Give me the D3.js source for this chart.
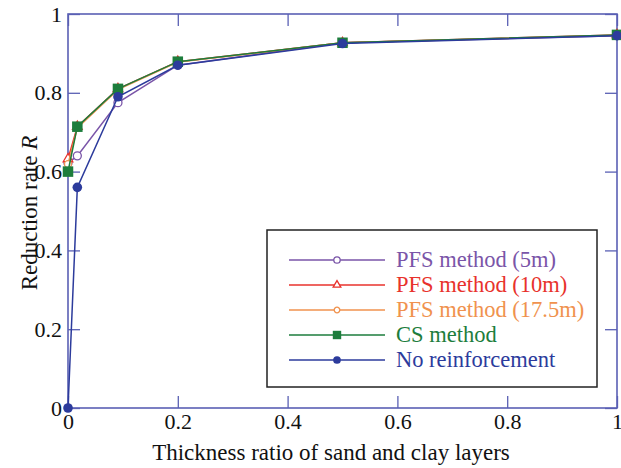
<!DOCTYPE html>
<html>
<head>
<meta charset="utf-8">
<script src="https://cdn.jsdelivr.net/npm/d3@7"></script>
<style>
  html, body { margin: 0; padding: 0; background: #fff; }
  svg { display: block; }
</style>
</head>
<body>
<div id="chart"></div>
<script>
// Thickness ratio of sand to clay layers (x positions of the measured cases)
const ratios = [0, 0.017, 0.091, 0.2, 0.5, 1.0];

// Reduction rate R for each method
const pfs5   = [0.622, 0.640, 0.775, 0.870, 0.927, 0.945];
const pfs10  = [0.632, 0.714, 0.810, 0.879, 0.927, 0.947];
const pfs175 = [0.619, 0.711, 0.808, 0.878, 0.927, 0.946];
const cs     = [0.600, 0.714, 0.810, 0.879, 0.927, 0.947];
const noReinf = [0.000, 0.560, 0.790, 0.870, 0.925, 0.945];

const xTicks = [0, 0.2, 0.4, 0.6, 0.8, 1];
const yTicks = [0, 0.2, 0.4, 0.6, 0.8, 1];
const xTickLabels = ["0", "0.2", "0.4", "0.6", "0.8", "1"];
const yTickLabels = ["0", "0.2", "0.4", "0.6", "0.8", "1"];

const seriesNames = ["PFS method (5m)", "PFS method (10m)", "PFS method (17.5m)", "CS method", "No reinforcement"];
const seriesValues = [pfs5, pfs10, pfs175, cs, noReinf];
const seriesColors = ["#7a55a8", "#e8322c", "#f0924e", "#1d7d3c", "#2c3b9c"];
const seriesMarkers = ["openCircle", "openTriangle", "openCircleSmall", "square", "dot"];

const SERIF = "'Liberation Serif', 'Times New Roman', Times, serif";

const W = 621, H = 468;
const m = { left: 68, right: 4, top: 14, bottom: 60 };
const iw = W - m.left - m.right, ih = H - m.top - m.bottom;
const frameColor = "#5a60b4";

const svg = d3.select("#chart").append("svg").attr("width", W).attr("height", H)
  .style("font-family", SERIF);
const g = svg.append("g").attr("transform", `translate(${m.left},${m.top})`);

const x = d3.scaleLinear().domain([0, 1]).range([0, iw]);
const y = d3.scaleLinear().domain([0, 1]).range([ih, 0]);

// Inward ticks on all four sides
const tickLen = 12;
const xb = d3.axisBottom(x).tickValues(xTicks).tickSizeInner(-tickLen).tickSizeOuter(0).tickFormat((d, i) => xTickLabels[i]).tickPadding(5);
const yl = d3.axisLeft(y).tickValues(yTicks).tickSizeInner(-tickLen).tickSizeOuter(0).tickFormat((d, i) => yTickLabels[i]).tickPadding(6);
const xt = d3.axisTop(x).tickValues(xTicks).tickSizeInner(-tickLen).tickSizeOuter(0).tickFormat("");
const yr = d3.axisRight(y).tickValues(yTicks).tickSizeInner(-tickLen).tickSizeOuter(0).tickFormat("");

function styleAxis(sel) {
  sel.attr("font-family", SERIF).attr("font-size", 22);
  sel.select(".domain").remove();
  sel.selectAll(".tick line").attr("stroke", frameColor).attr("stroke-width", 1.3);
  sel.selectAll(".tick text").attr("fill", "#111").attr("font-family", SERIF).attr("font-size", 22);
}
g.append("g").attr("transform", `translate(0,${ih})`).call(xb).call(styleAxis);
g.append("g").call(yl).call(styleAxis);
g.append("g").call(xt).call(styleAxis);
g.append("g").attr("transform", `translate(${iw},0)`).call(yr).call(styleAxis);

g.append("rect").attr("width", iw).attr("height", ih)
  .attr("fill", "none").attr("stroke", frameColor).attr("stroke-width", 1.6);

// Axis titles
svg.append("text").attr("x", 331).attr("y", 460)
  .attr("text-anchor", "middle").attr("font-size", 23).attr("fill", "#111")
  .attr("font-family", SERIF)
  .text("Thickness ratio of sand and clay layers");
const yt = svg.append("text").attr("transform", `translate(37,213) rotate(-90)`)
  .attr("text-anchor", "middle").attr("font-size", 23).attr("fill", "#111")
  .attr("font-family", SERIF);
yt.append("tspan").text("Reduction rate ");
yt.append("tspan").attr("font-style", "italic").text("R");

function drawMarker(sel, type, color, scale) {
  const s = scale || 1;
  if (type === "openCircle") {
    sel.append("circle").attr("r", 4 * s).attr("fill", "#fff").attr("stroke", color).attr("stroke-width", 1.3);
  } else if (type === "openCircleSmall") {
    sel.append("circle").attr("r", 3.5 * s).attr("fill", "#fff").attr("stroke", color).attr("stroke-width", 1.3);
  } else if (type === "openTriangle") {
    sel.append("path").attr("d", d3.symbol(d3.symbolTriangle, 40 * s * s)())
      .attr("fill", "#fff").attr("stroke", color).attr("stroke-width", 1.3);
  } else if (type === "square") {
    const a = 10.5 * s;
    sel.append("rect").attr("x", -a / 2).attr("y", -a / 2).attr("width", a).attr("height", a).attr("fill", color);
  } else if (type === "dot") {
    sel.append("circle").attr("r", 4.8 * s).attr("fill", color);
  }
}

const line = d3.line().x((d, i) => x(ratios[i])).y(d => y(d));

seriesValues.forEach((vals, si) => {
  const sg = g.append("g");
  sg.append("path").datum(vals).attr("d", line)
    .attr("fill", "none").attr("stroke", seriesColors[si]).attr("stroke-width", 1.5);
  vals.forEach((v, i) => {
    const mg = sg.append("g").attr("transform", `translate(${x(ratios[i])},${y(v)})`);
    drawMarker(mg, seriesMarkers[si], seriesColors[si]);
  });
});

// Legend
const lg = svg.append("g").attr("transform", "translate(267,230)");
lg.append("rect").attr("width", 330).attr("height", 157)
  .attr("fill", "#fff").attr("stroke", "#222").attr("stroke-width", 1.5);
seriesNames.forEach((name, i) => {
  const ry = 30 + i * 25;
  lg.append("line").attr("x1", 22).attr("x2", 118).attr("y1", ry).attr("y2", ry)
    .attr("stroke", seriesColors[i]).attr("stroke-width", 1.3);
  const mg = lg.append("g").attr("transform", `translate(70,${ry})`);
  drawMarker(mg, seriesMarkers[i], seriesColors[i], 0.8);
  lg.append("text").attr("x", 129).attr("y", ry + 7).attr("font-size", 22.5)
    .attr("font-family", SERIF)
    .attr("fill", seriesColors[i]).text(name);
});
</script>
</body>
</html>
